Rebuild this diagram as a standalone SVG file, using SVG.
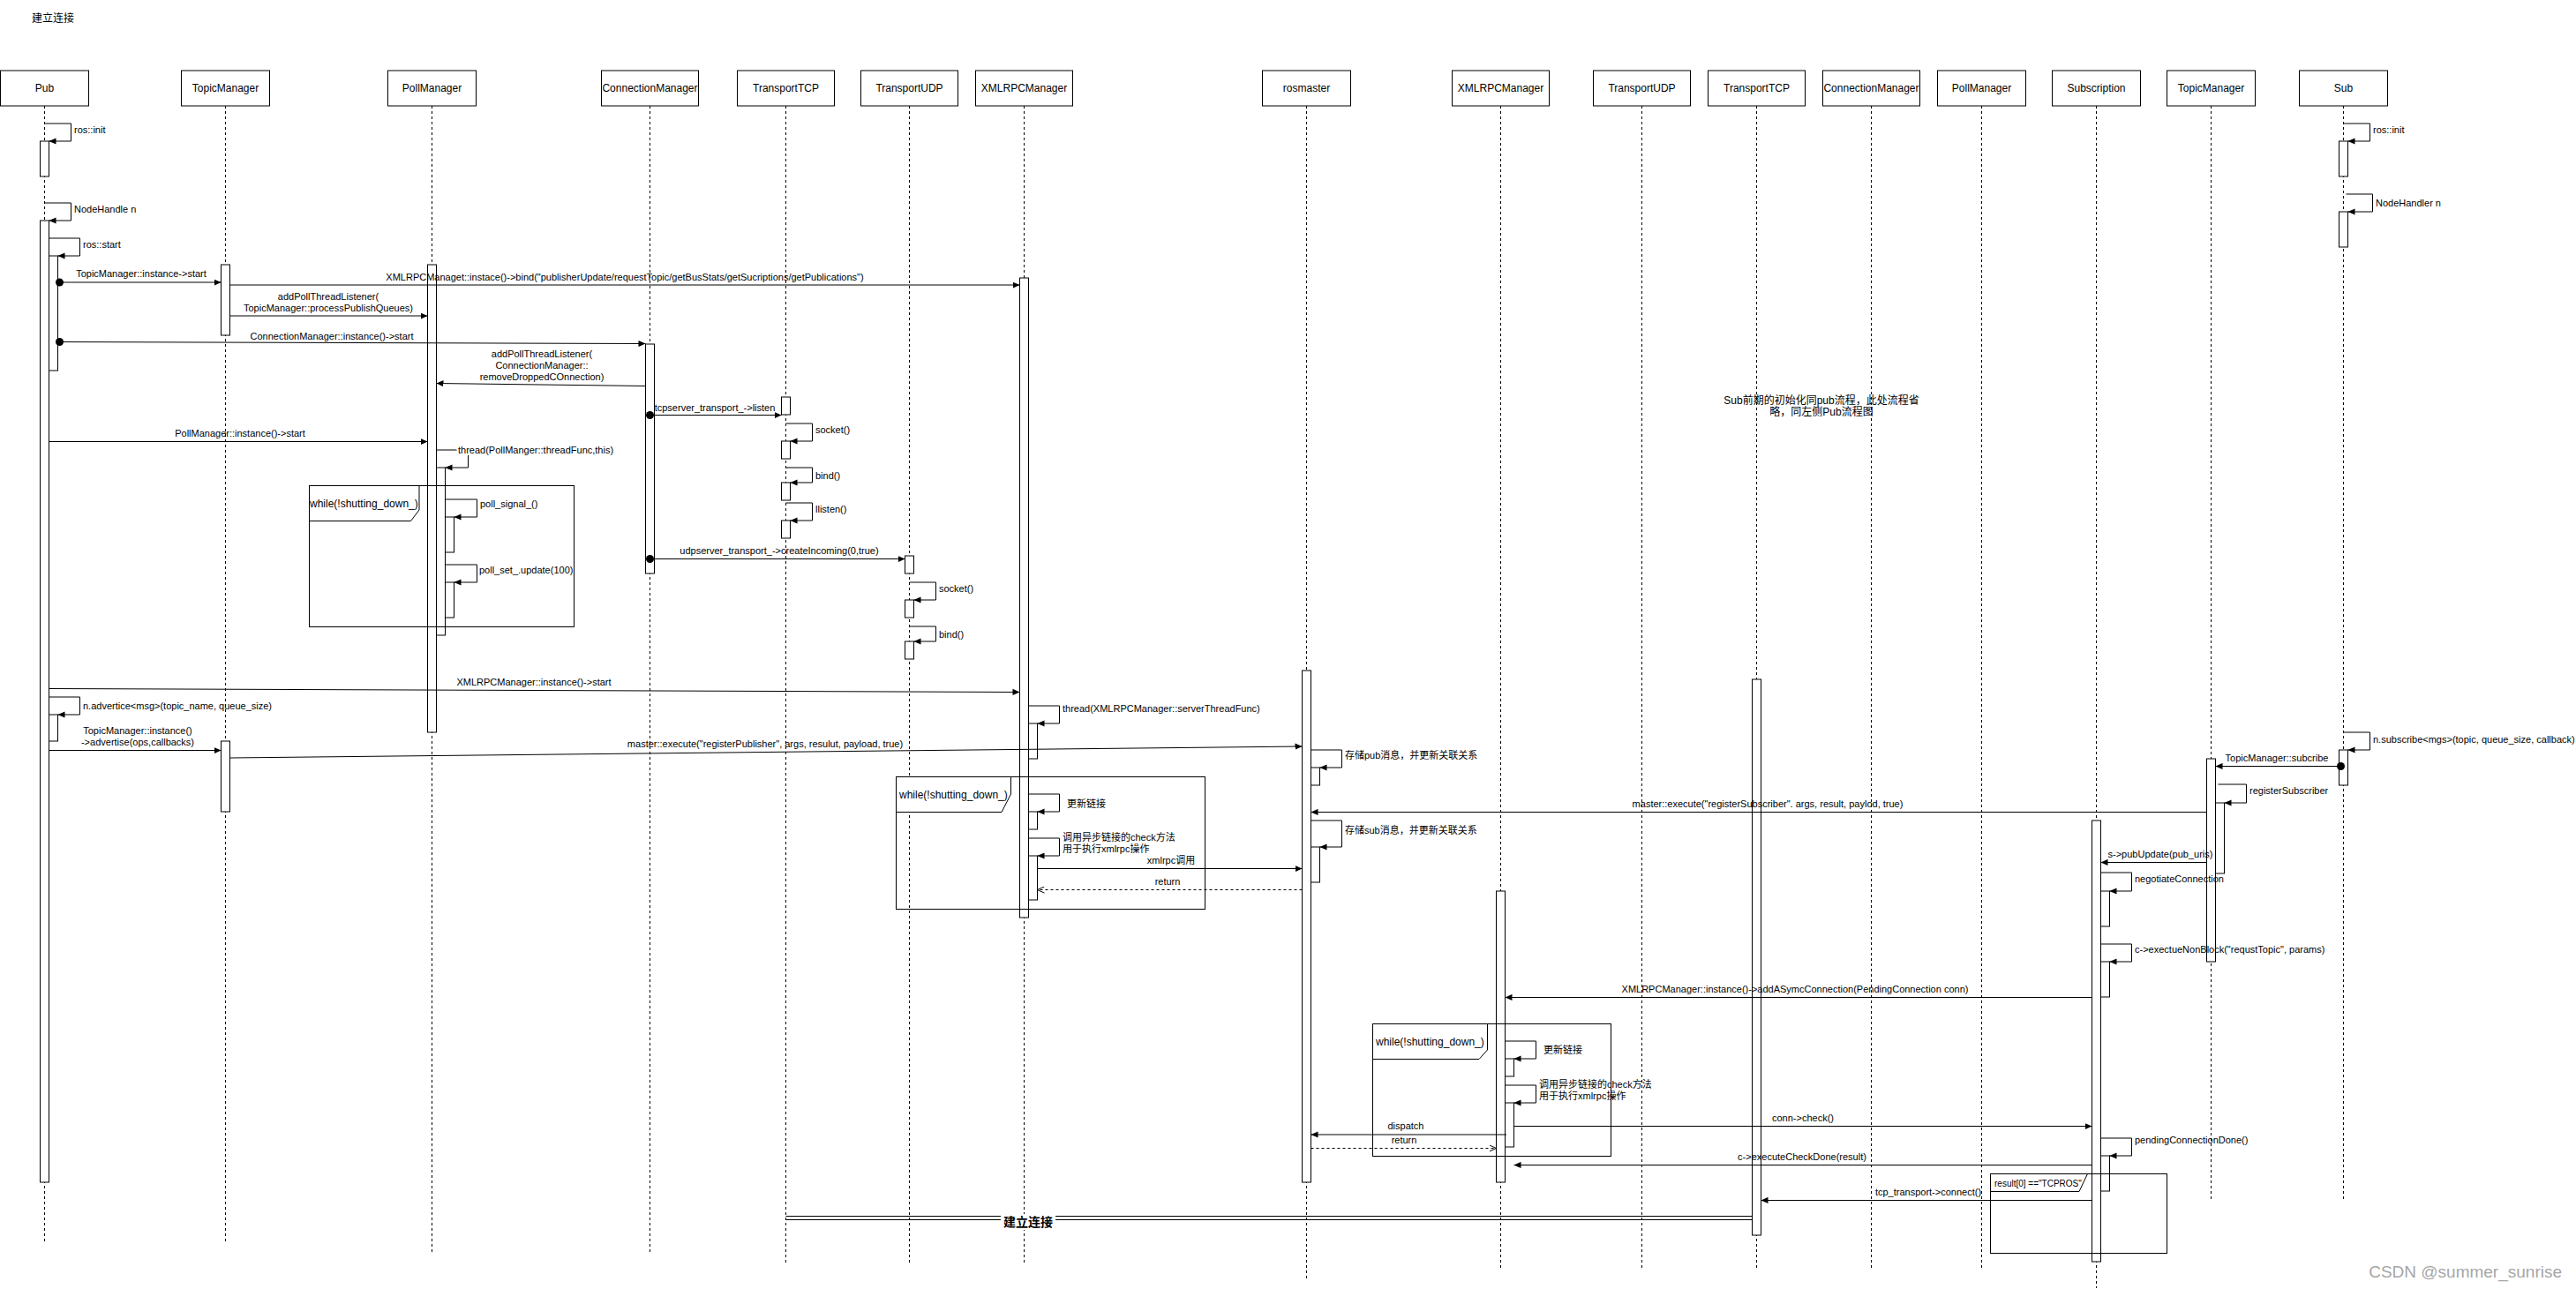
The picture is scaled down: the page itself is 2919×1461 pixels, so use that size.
<svg xmlns="http://www.w3.org/2000/svg" width="2919" height="1461" viewBox="0 0 2919 1461">
<style>
text{font-family:"Liberation Sans","Noto Sans CJK SC",sans-serif;font-size:11px;fill:#000}
.h{font-size:12px}
.c{text-anchor:middle}
.box{fill:#fff;stroke:#000;stroke-width:1}
.life{stroke:#000;stroke-width:1;stroke-dasharray:3 3;fill:none}
.act{fill:#fff;stroke:#000;stroke-width:1}
.msg{fill:none;stroke:#000;stroke-width:1;marker-end:url(#ah)}
.ret{fill:none;stroke:#000;stroke-width:1;stroke-dasharray:3 3;marker-end:url(#oa)}
.frame{fill:none;stroke:#000;stroke-width:1}
.tab{fill:#fff;stroke:#000;stroke-width:1}
.halo{paint-order:stroke;stroke:#fff;stroke-width:4;stroke-linejoin:round}
.dot{fill:#000}
</style>
<defs>
<marker id="ah" viewBox="0 0 10 10" refX="10" refY="5" markerWidth="8" markerHeight="8" markerUnits="userSpaceOnUse" orient="auto"><path d="M0,0.5 L10,5 L0,9.5 z" fill="#000"/></marker>
<marker id="oa" viewBox="0 0 10 10" refX="10" refY="5" markerWidth="8" markerHeight="8" markerUnits="userSpaceOnUse" orient="auto"><path d="M0,0.5 L10,5 L0,9.5" fill="none" stroke="#000" stroke-width="1.25"/></marker>
</defs>
<rect width="2919" height="1461" fill="#fff"/>
<text class="h" x="36" y="25">建立连接</text>
<text class="h c" x="2064" y="458">Sub前期的初始化同pub流程，此处流程省</text>
<text class="h c" x="2064" y="471">略，同左侧Pub流程图</text>

<g id="n-pub">
<line class="life" x1="50.5" y1="120" x2="50.5" y2="1408"/>
<rect class="box" x="0.5" y="80" width="100" height="40"/><text class="h c" x="50.5" y="104">Pub</text>
<rect class="act" x="45.5" y="160" width="10" height="40"/>
<rect class="act" x="45.5" y="250" width="10" height="1090"/>
<rect class="act" x="55.5" y="290" width="10" height="130"/>
<rect class="act" x="55.5" y="810" width="10" height="30"/>
</g>
<g id="n-topicmanager-pub">
<line class="life" x1="255.5" y1="120" x2="255.5" y2="1408"/>
<rect class="box" x="205.5" y="80" width="100" height="40"/><text class="h c" x="255.5" y="104">TopicManager</text>
<rect class="act" x="250.5" y="300" width="10" height="80"/>
<rect class="act" x="250.5" y="840" width="10" height="80"/>
</g>
<g id="n-pollmanager-pub">
<line class="life" x1="489.5" y1="120" x2="489.5" y2="1420"/>
<rect class="box" x="439.5" y="80" width="100" height="40"/><text class="h c" x="489.5" y="104">PollManager</text>
<rect class="act" x="484.5" y="300" width="10" height="530"/>
<rect class="act" x="494.5" y="530" width="10" height="190"/>
<rect class="act" x="504.5" y="586" width="10" height="40"/>
<rect class="act" x="504.5" y="660" width="10" height="40"/>
</g>
<g id="n-connectionmanager-pub">
<line class="life" x1="736.5" y1="120" x2="736.5" y2="1420"/>
<rect class="box" x="681.5" y="80" width="110" height="40"/><text class="h c" x="736.5" y="104">ConnectionManager</text>
<rect class="act" x="731.5" y="390" width="10" height="260"/>
</g>
<g id="n-transporttcp-pub">
<line class="life" x1="890.5" y1="120" x2="890.5" y2="1431"/>
<rect class="box" x="835.5" y="80" width="110" height="40"/><text class="h c" x="890.5" y="104">TransportTCP</text>
<rect class="act" x="885.5" y="450" width="10" height="20"/>
<rect class="act" x="885.5" y="500" width="10" height="20"/>
<rect class="act" x="885.5" y="547" width="10" height="20"/>
<rect class="act" x="885.5" y="590" width="10" height="20"/>
</g>
<g id="n-transportudp-pub">
<line class="life" x1="1030.5" y1="120" x2="1030.5" y2="1431"/>
<rect class="box" x="975.5" y="80" width="110" height="40"/><text class="h c" x="1030.5" y="104">TransportUDP</text>
<rect class="act" x="1025.5" y="630" width="10" height="20"/>
<rect class="act" x="1025.5" y="680" width="10" height="20"/>
<rect class="act" x="1025.5" y="727" width="10" height="20"/>
</g>
<g id="n-xmlrpcmanager-pub">
<line class="life" x1="1160.5" y1="120" x2="1160.5" y2="1431"/>
<rect class="box" x="1105.5" y="80" width="110" height="40"/><text class="h c" x="1160.5" y="104">XMLRPCManager</text>
<rect class="act" x="1155.5" y="315" width="10" height="725"/>
<rect class="act" x="1165.5" y="820" width="10" height="40"/>
<rect class="act" x="1165.5" y="920" width="10" height="20"/>
<rect class="act" x="1165.5" y="970" width="10" height="50"/>
</g>
<g id="n-rosmaster">
<line class="life" x1="1480.5" y1="120" x2="1480.5" y2="1450"/>
<rect class="box" x="1430.5" y="80" width="100" height="40"/><text class="h c" x="1480.5" y="104">rosmaster</text>
<rect class="act" x="1475.5" y="760" width="10" height="580"/>
<rect class="act" x="1485.5" y="870" width="10" height="20"/>
<rect class="act" x="1485.5" y="960" width="10" height="40"/>
</g>
<g id="n-xmlrpcmanager-sub">
<line class="life" x1="1700.5" y1="120" x2="1700.5" y2="1437"/>
<rect class="box" x="1645.5" y="80" width="110" height="40"/><text class="h c" x="1700.5" y="104">XMLRPCManager</text>
<rect class="act" x="1695.5" y="1010" width="10" height="330"/>
<rect class="act" x="1705.5" y="1200" width="10" height="20"/>
<rect class="act" x="1705.5" y="1250" width="10" height="50"/>
</g>
<g id="n-transportudp-sub">
<line class="life" x1="1860.5" y1="120" x2="1860.5" y2="1437"/>
<rect class="box" x="1805.5" y="80" width="110" height="40"/><text class="h c" x="1860.5" y="104">TransportUDP</text>
</g>
<g id="n-transporttcp-sub">
<line class="life" x1="1990.5" y1="120" x2="1990.5" y2="1437"/>
<rect class="box" x="1935.5" y="80" width="110" height="40"/><text class="h c" x="1990.5" y="104">TransportTCP</text>
<rect class="act" x="1985.5" y="770" width="10" height="630"/>
</g>
<g id="n-connectionmanager-sub">
<line class="life" x1="2120.5" y1="120" x2="2120.5" y2="1437"/>
<rect class="box" x="2065.5" y="80" width="110" height="40"/><text class="h c" x="2120.5" y="104">ConnectionManager</text>
</g>
<g id="n-pollmanager-sub">
<line class="life" x1="2245.5" y1="120" x2="2245.5" y2="1437"/>
<rect class="box" x="2195.5" y="80" width="100" height="40"/><text class="h c" x="2245.5" y="104">PollManager</text>
</g>
<g id="n-subscription">
<line class="life" x1="2375.5" y1="120" x2="2375.5" y2="1460"/>
<rect class="box" x="2325.5" y="80" width="100" height="40"/><text class="h c" x="2375.5" y="104">Subscription</text>
<rect class="act" x="2370.5" y="930" width="10" height="500"/>
<rect class="act" x="2380.5" y="1010" width="10" height="40"/>
<rect class="act" x="2380.5" y="1090" width="10" height="40"/>
<rect class="act" x="2380.5" y="1310" width="10" height="40"/>
</g>
<g id="n-topicmanager-sub">
<line class="life" x1="2505.5" y1="120" x2="2505.5" y2="1360"/>
<rect class="box" x="2455.5" y="80" width="100" height="40"/><text class="h c" x="2505.5" y="104">TopicManager</text>
<rect class="act" x="2500.5" y="860" width="10" height="230"/>
<rect class="act" x="2510.5" y="910" width="10" height="80"/>
</g>
<g id="n-sub">
<line class="life" x1="2655.5" y1="120" x2="2655.5" y2="1360"/>
<rect class="box" x="2605.5" y="80" width="100" height="40"/><text class="h c" x="2655.5" y="104">Sub</text>
<rect class="act" x="2650.5" y="160" width="10" height="40"/>
<rect class="act" x="2650.5" y="240" width="10" height="40"/>
<rect class="act" x="2650.5" y="850" width="10" height="40"/>
</g>

<g id="frames">
<rect class="frame" x="350.5" y="550.5" width="300" height="160"/>
<path class="tab" d="M350.5,550.5 H475 V578 L465.5,590.5 H350.5 Z"/>
<text class="h" x="351" y="575">while(!shutting_down_)</text>
<rect class="frame" x="1015.5" y="880.5" width="350" height="150"/>
<path class="tab" d="M1015.5,880.5 H1145.5 V900 L1135,920.5 H1015.5 Z"/>
<text class="h" x="1019" y="905">while(!shutting_down_)</text>
<rect class="frame" x="1555.5" y="1160.5" width="270" height="150"/>
<path class="tab" d="M1555.5,1160.5 H1685.5 V1190 L1676,1200.5 H1555.5 Z"/>
<text class="h" x="1559" y="1185">while(!shutting_down_)</text>
<rect class="frame" x="2255.5" y="1330.5" width="200" height="90"/>
<path class="tab" d="M2255.5,1330.5 H2365.5 L2356,1350.5 H2255.5 Z"/>
<text x="2260" y="1345" style="font-size:10px">result[0] =="TCPROS"</text>
</g>

<g id="connectors">
<path class="msg" d="M50.5,140 H80.5 V160 H55.5"/><text x="84" y="151">ros::init</text>
<path class="msg" d="M50.5,230 H80.5 V250 H55.5"/><text x="84" y="241">NodeHandle n</text>
<path class="msg" d="M55.5,270 H90.5 V290 H65.5"/><text x="94" y="281">ros::start</text>
<circle class="dot" cx="67.5" cy="320" r="4.5"/>
<path class="msg" d="M67.5,320 H250.5"/><text class="c" x="160" y="314">TopicManager::instance-&gt;start</text>
<path class="msg" d="M260.5,323 H1155.5"/><text class="c" x="708" y="318">XMLRPCManaget::instace()-&gt;bind("publisherUpdate/requestTopic/getBusStats/getSucriptions/getPublications")</text>
<path class="msg" d="M260.5,358 H484.5"/><text class="c" x="372" y="340">addPollThreadListener(</text><text class="c" x="372" y="353">TopicManager::processPublishQueues)</text>
<circle class="dot" cx="67.5" cy="387.5" r="4.5"/>
<path class="msg" d="M67.5,387.5 L731.5,389.5"/><text class="c" x="376" y="385">ConnectionManager::instance()-&gt;start</text>
<path class="msg" d="M731.5,437.5 L494.5,434.5"/><text class="c" x="614" y="405">addPollThreadListener(</text><text class="c" x="614" y="418">ConnectionManager::</text><text class="c" x="614" y="431">removeDroppedCOnnection)</text>
<circle class="dot" cx="736.5" cy="470.5" r="4.5"/>
<path class="msg" d="M736.5,470.5 H885.5"/><text class="c" x="810" y="466">tcpserver_transport_-&gt;listen</text>
<path class="msg" d="M890.5,480 H920.5 V500 H895.5"/><text x="924" y="491">socket()</text>
<path class="msg" d="M55.5,500.5 H484.5"/><text class="c" x="272" y="495">PollManager::instance()-&gt;start</text>
<path class="msg" d="M494.5,510 H530.5 V530 H504.5"/><text class="halo" x="519" y="514">thread(PollManger::threadFunc,this)</text>
<path class="msg" d="M890.5,530 H920.5 V547 H895.5"/><text x="924" y="543">bind()</text>
<path class="msg" d="M504.5,566 H540.5 V586 H514.5"/><text x="544" y="575">poll_signal_()</text>
<path class="msg" d="M890.5,570 H920.5 V590 H895.5"/><text x="924" y="581">llisten()</text>
<circle class="dot" cx="736.5" cy="633.5" r="4.5"/>
<path class="msg" d="M736.5,633.5 H1025.5"/><text class="c" x="883" y="628">udpserver_transport_-&gt;createIncoming(0,true)</text>
<path class="msg" d="M504.5,640 H540.5 V660 H514.5"/><text x="543" y="650">poll_set_.update(100)</text>
<path class="msg" d="M1030.5,660 H1060.5 V680 H1035.5"/><text x="1064" y="671">socket()</text>
<path class="msg" d="M1030.5,710 H1060.5 V727 H1035.5"/><text x="1064" y="723">bind()</text>
<path class="msg" d="M55.5,780.5 L1155.5,784.5"/><text class="c" x="605" y="777">XMLRPCManager::instance()-&gt;start</text>
<path class="msg" d="M55.5,790 H90.5 V810 H65.5"/><text x="94" y="804">n.advertice&lt;msg&gt;(topic_name, queue_size)</text>
<path class="msg" d="M1165.5,800 H1200.5 V820 H1175.5"/><text x="1204" y="807">thread(XMLRPCManager::serverThreadFunc)</text>
<path class="msg" d="M55.5,850.5 H250.5"/><text class="c" x="156" y="832">TopicManager::instance()</text><text class="c" x="156" y="845">-&gt;advertise(ops,callbacks)</text>
<path class="msg" d="M260.5,859 L1475.5,846"/><text class="c" x="867" y="847">master::execute("registerPublisher", args, resulut, payload, true)</text>
<path class="msg" d="M1485.5,850 H1520.5 V870 H1495.5"/><text x="1524" y="860">存储pub消息，并更新关联关系</text>
<path class="msg" d="M1165.5,900 H1200.5 V920 H1175.5"/><text x="1209" y="915">更新链接</text>
<path class="msg" d="M1165.5,950 H1200.5 V970 H1175.5"/><text x="1204" y="953">调用异步链接的check方法</text><text x="1204" y="966">用于执行xmlrpc操作</text>
<path class="msg" d="M1175.5,984.5 H1475.5"/><text class="c" x="1327" y="979">xmlrpc调用</text>
<path class="ret" d="M1475.5,1008.5 H1175.5"/><text class="c" x="1323" y="1003">return</text>
<path class="msg" d="M2655.5,140 H2685.5 V160 H2660.5"/><text x="2689" y="151">ros::init</text>
<path class="msg" d="M2658.5,220 H2688.5 V240 H2660.5"/><text x="2692" y="234">NodeHandler n</text>
<path class="msg" d="M2655.5,830 H2685.5 V850 H2660.5"/><text x="2689" y="842">n.subscribe&lt;mgs&gt;(topic, queue_size, callback)</text>
<circle class="dot" cx="2652.5" cy="868.5" r="4.5"/>
<path class="msg" d="M2652.5,868.5 H2510.5"/><text class="c" x="2580" y="863">TopicManager::subcribe</text>
<path class="msg" d="M2513.5,889 H2545.5 V910 H2520.5"/><text x="2549" y="900">registerSubscriber</text>
<path class="msg" d="M2500.5,920.5 H1485.5"/><text class="c" x="2003" y="915">master::execute("registerSubscriber". args, result, paylod, true)</text>
<path class="msg" d="M1485.5,930 H1520.5 V960 H1495.5"/><text x="1524" y="945">存储sub消息，并更新关联关系</text>
<path class="msg" d="M2500.5,977.5 H2380.5"/><text class="c" x="2448" y="972">s-&gt;pubUpdate(pub_uris)</text>
<path class="msg" d="M2380.5,989 H2415.5 V1010 H2390.5"/><text x="2419" y="1000">negotiateConnection</text>
<path class="msg" d="M2380.5,1070 H2415.5 V1090 H2390.5"/><text x="2419" y="1080">c-&gt;exectueNonBlock("requstTopic", params)</text>
<path class="msg" d="M2370.5,1130.5 H1705.5"/><text class="c" x="2034" y="1125">XMLRPCManager::instance()-&gt;addASymcConnection(PendingConnection conn)</text>
<path class="msg" d="M1705.5,1180 H1740.5 V1200 H1715.5"/><text x="1749" y="1194">更新链接</text>
<path class="msg" d="M1705.5,1230 H1740.5 V1250 H1715.5"/><text x="1744" y="1233">调用异步链接的check方法</text><text x="1744" y="1246">用于执行xmlrpc操作</text>
<path class="msg" d="M1715.5,1276.5 H2370.5"/><text class="c" x="2043" y="1271">conn-&gt;check()</text>
<path class="msg" d="M1707,1286 H1485.5"/><text class="c" x="1593" y="1280">dispatch</text>
<path class="msg" d="M2380.5,1290 H2415.5 V1310 H2390.5"/><text x="2419" y="1296">pendingConnectionDone()</text>
<path class="ret" d="M1485.5,1301.5 H1695.5"/><text class="c" x="1591" y="1296">return</text>
<path class="msg" d="M2370.5,1320.5 H1715.5"/><text class="c" x="2042" y="1315">c-&gt;executeCheckDone(result)</text>
<path class="msg" d="M2370.5,1360.5 H1995.5"/><text class="c" x="2185" y="1355">tcp_transport-&gt;connect()</text>
<line x1="890.5" y1="1378.5" x2="1985.5" y2="1378.5" stroke="#000"/>
<line x1="890.5" y1="1382.5" x2="1985.5" y2="1382.5" stroke="#000"/>
<rect x="1134" y="1376" width="62" height="18" fill="#fff"/>
<text class="c" x="1165" y="1390" style="font-size:14px;font-weight:bold">建立连接</text>
</g>
<text x="2903" y="1448" style="font-size:19px;fill:#a6a6a6;text-anchor:end">CSDN @summer_sunrise</text>
</svg>
